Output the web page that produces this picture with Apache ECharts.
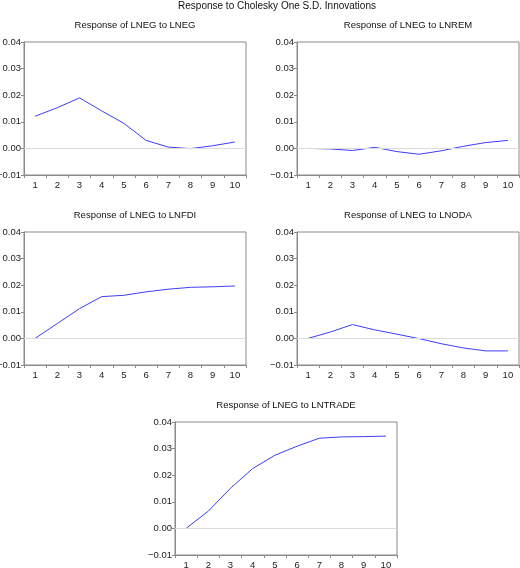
<!DOCTYPE html>
<html>
<head>
<meta charset="utf-8">
<script src="https://cdn.jsdelivr.net/npm/echarts@6/dist/echarts.min.js"></script>
<style>
html,body{margin:0;padding:0;background:#fff;}
#chart{width:520px;height:568px;}
</style>
</head>
<body>
<div id="chart"></div>
<script>
// ---- data ----
const periods = ['1','2','3','4','5','6','7','8','9','10'];
const yTicks = {min: -0.01, max: 0.04, interval: 0.01};
const mainTitle = 'Response to Cholesky One S.D. Innovations';
const panelTitles = [
  'Response of LNEG to LNEG',
  'Response of LNEG to LNREM',
  'Response of LNEG to LNFDI',
  'Response of LNEG to LNODA',
  'Response of LNEG to LNTRADE'
];
const toLNEG   = [0.0121, 0.0153, 0.0190, 0.0141, 0.0094, 0.0030, 0.0005, -0.0001, 0.0010, 0.0024];
const toLNREM  = [0.0000, -0.0002, -0.0008, 0.0004, -0.0012, -0.0022, -0.0009, 0.0008, 0.0022, 0.0030];
const toLNFDI  = [0.0000, 0.0056, 0.0112, 0.0157, 0.0162, 0.0175, 0.0185, 0.0192, 0.0194, 0.0197];
const toLNODA  = [0.0000, 0.0024, 0.0052, 0.0032, 0.0016, -0.0001, -0.0020, -0.0036, -0.0047, -0.0047];
const toLNTRADE= [0.0000, 0.0065, 0.0151, 0.0225, 0.0275, 0.0309, 0.0339, 0.0344, 0.0345, 0.0347];
const seriesData = [toLNEG, toLNREM, toLNFDI, toLNODA, toLNTRADE];

// ---- layout ----
const boxes = [
  {left: 24,  top: 42},
  {left: 297, top: 42},
  {left: 24,  top: 232},
  {left: 297, top: 232},
  {left: 175, top: 422}
];
const W = 222, H = 133;
const FONT = 'Liberation Sans, Arial, sans-serif';
const axisColor = '#8a8a8a';

const grids = [], xAxes = [], yAxes = [], series = [], graphics = [];
boxes.forEach((b, i) => {
  grids.push({left: b.left, top: b.top, width: W, height: H, show: true,
    containLabel: false, outerBoundsMode: 'none',
    borderColor: axisColor, borderWidth: 1, backgroundColor: '#fff'});
  xAxes.push({type: 'category', gridIndex: i, data: periods, boundaryGap: true,
    axisLine: {onZero: false, lineStyle: {color: axisColor}},
    axisTick: {show: true, length: 3, lineStyle: {color: axisColor}},
    axisLabel: {color: '#222', fontSize: 9.5, fontFamily: FONT, margin: 5},
    splitLine: {show: false}});
  yAxes.push({type: 'value', gridIndex: i, min: yTicks.min, max: yTicks.max, interval: yTicks.interval,
    axisLine: {show: true, lineStyle: {color: axisColor}},
    axisTick: {show: true, length: 3, lineStyle: {color: axisColor}},
    axisLabel: {color: '#222', fontSize: 9.5, fontFamily: FONT, margin: 3,
      formatter: v => (Math.abs(v) < 1e-9 ? 0 : v).toFixed(2).replace('-', '\u2212')},
    splitLine: {show: false}});
  series.push({type: 'line', xAxisIndex: i, yAxisIndex: i, data: seriesData[i],
    symbol: 'none', lineStyle: {color: '#3c3cff', width: 1}, animation: false, z: 3,
    markLine: {silent: true, symbol: 'none', label: {show: false}, animation: false,
      lineStyle: {color: '#dcdcdc', width: 1, type: 'solid'},
      data: [{yAxis: 0}]}});
  graphics.push({type: 'text', x: b.left + W / 2, y: b.top - 17,
    style: {text: panelTitles[i], font: '9.5px ' + FONT, fill: '#111',
      textAlign: 'center', textVerticalAlign: 'middle'}});
});
graphics.push({type: 'text', x: 277, y: 6,
  style: {text: mainTitle, font: '10px ' + FONT, fill: '#111',
    textAlign: 'center', textVerticalAlign: 'middle'}});

const chart = echarts.init(document.getElementById('chart'), null, {renderer: 'canvas'});
chart.setOption({
  animation: false,
  backgroundColor: '#fff',
  grid: grids, xAxis: xAxes, yAxis: yAxes, series: series,
  graphic: graphics
});
</script>
</body>
</html>
